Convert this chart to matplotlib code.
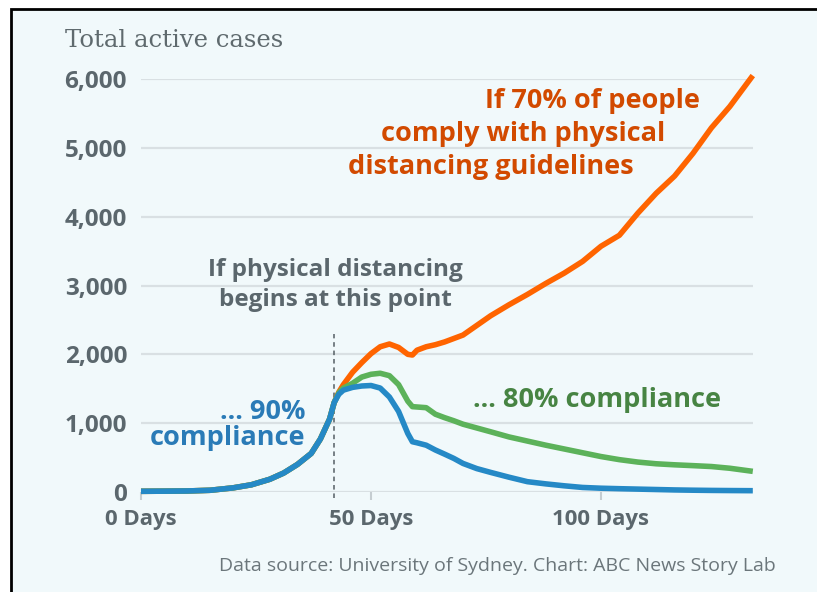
import matplotlib
matplotlib.use("Agg")
import matplotlib.pyplot as plt
from matplotlib.patches import Rectangle

# ---------------- data ----------------
days = [0, 5, 10, 15, 20, 24, 28, 31, 34, 37, 39, 41, 42, 43, 44, 46, 48, 50, 52, 54, 56,
        58, 59, 60, 62, 64, 66, 68, 70, 73, 76, 80, 84, 88, 92, 96, 100, 104, 108,
        112, 116, 120, 124, 128, 133]

common = [10, 12, 15, 25, 60, 105, 185, 275, 400, 560, 770, 1060, 1300]

blue_after = [1420, 1480, 1520, 1540, 1547, 1510, 1380, 1170, 850, 730, 715, 680, 610, 550,
              488, 415, 340, 285, 215, 150, 118, 90, 66, 55, 48, 42, 36, 30, 26, 23, 21, 19]
green_after = [1440, 1510, 1580, 1670, 1710, 1725, 1690, 1560, 1320, 1240, 1235, 1225, 1130,
               1080, 1035, 985, 930, 875, 800, 740, 680, 625, 570, 515, 470, 435, 410,
               395, 383, 370, 345, 300]
orange_after = [1450, 1560, 1740, 1880, 2010, 2110, 2150, 2100, 2000, 1990, 2060, 2110, 2140,
                2180, 2230, 2280, 2420, 2560, 2720, 2870, 3030, 3180, 3350, 3570, 3730,
                4050, 4340, 4590, 4920, 5290, 5600, 6050]

compliance_90 = common + blue_after
compliance_80 = common + green_after
compliance_70 = common + orange_after

distancing_start = 42
y_ticks = [0, 1000, 2000, 3000, 4000, 5000, 6000]
y_tick_labels = ["0", "1,000", "2,000", "3,000", "4,000", "5,000", "6,000"]
x_ticks = [0, 50, 100]
x_tick_labels = ["0 Days", "50 Days", "100 Days"]

# ---------------- style ----------------
W, H = 817, 592
BG = "#f1f9fb"
GRID = "#d9e0e3"
LABEL = "#5b676d"
ORANGE = "#ff6400"
ORANGE_T = "#d24a00"
GREEN = "#5cb25a"
GREEN_T = "#478443"
BLUE = "#2589c6"
BLUE_T = "#2a7bb7"
SANS = ["Open Sans", "DejaVu Sans"]

fig = plt.figure(figsize=(W / 100, H / 100), dpi=100, facecolor="white")

def fx(x):
    return x / W

def fy(y):
    return 1 - y / H

# panel background with top/left border
panel = Rectangle((fx(10.5), -0.2), 1.5, fy(9.5) + 0.2, transform=fig.transFigure,
                  facecolor=BG, edgecolor="black", linewidth=2, zorder=-5)
fig.patches.append(panel)

x0, x1 = 141, 141 + 133 * 4.6
y0, y6 = 492, 79
ax = fig.add_axes([fx(x0), fy(y0), fx(x1) - fx(x0), fy(y6) - fy(y0)], zorder=1)
ax.set_facecolor("none")
ax.set_xlim(0, 133)
ax.set_ylim(0, 6000)
for s in ax.spines.values():
    s.set_visible(False)

for v in y_ticks:
    ax.axhline(v, color=GRID, linewidth=1.6, zorder=1)

ax.set_yticks(y_ticks)
ax.set_yticklabels(y_tick_labels)
ax.tick_params(axis="y", length=0, pad=10, labelsize=17.5, labelcolor=LABEL)
ax.set_xticks(x_ticks)
ax.set_xticklabels(x_tick_labels)
ax.tick_params(axis="x", length=6, width=1.5, color="#c5cdd1", pad=6,
               labelsize=16, labelcolor=LABEL)
for lab in ax.get_xticklabels() + ax.get_yticklabels():
    lab.set_fontfamily(SANS)
    lab.set_fontweight("bold")

ax.plot([distancing_start, distancing_start], [-80, 2300], color="#555f64",
        linewidth=1.1, linestyle=(0, (3, 2.5)), zorder=2, clip_on=False)

lw = 4.0
ax.plot(days, compliance_70, color=ORANGE, linewidth=lw, zorder=3, clip_on=False,
        solid_joinstyle="round", solid_capstyle="butt")
ax.plot(days, compliance_80, color=GREEN, linewidth=lw, zorder=4, clip_on=False,
        solid_joinstyle="round", solid_capstyle="butt")
ax.plot(days, compliance_90, color=BLUE, linewidth=lw, zorder=5, clip_on=False,
        solid_joinstyle="round", solid_capstyle="butt")

# ---------------- text ----------------
fig.text(fx(65), fy(47), "Total active cases", family=["DejaVu Serif"],
         fontsize=17.5, color="#5f6a6e", va="baseline", ha="left")

ann = dict(family=SANS, fontweight="bold", fontsize=19.5, va="baseline")
fig.text(fx(700), fy(108), "If 70% of people", color=ORANGE_T, ha="right", **ann)
fig.text(fx(665), fy(141), "comply with physical", color=ORANGE_T, ha="right", **ann)
fig.text(fx(634), fy(174), "distancing guidelines", color=ORANGE_T, ha="right", **ann)

gray = dict(family=SANS, fontweight="bold", fontsize=17.5, va="baseline")
fig.text(fx(335), fy(276), "If physical distancing", color=LABEL, ha="center", **gray)
fig.text(fx(335), fy(306), "begins at this point", color=LABEL, ha="center", **gray)

fig.text(fx(305), fy(419), "... 90%", color=BLUE_T, ha="right", **ann)
fig.text(fx(305), fy(445), "compliance", color=BLUE_T, ha="right", **ann)

fig.text(fx(473), fy(407), "... 80% compliance", color=GREEN_T, ha="left", **ann)

fig.text(fx(776), fy(571), "Data source: University of Sydney. Chart: ABC News Story Lab",
         family=SANS, fontsize=14, color="#6b767b", ha="right", va="baseline")

fig.savefig("out.png", dpi=100, facecolor="white")
